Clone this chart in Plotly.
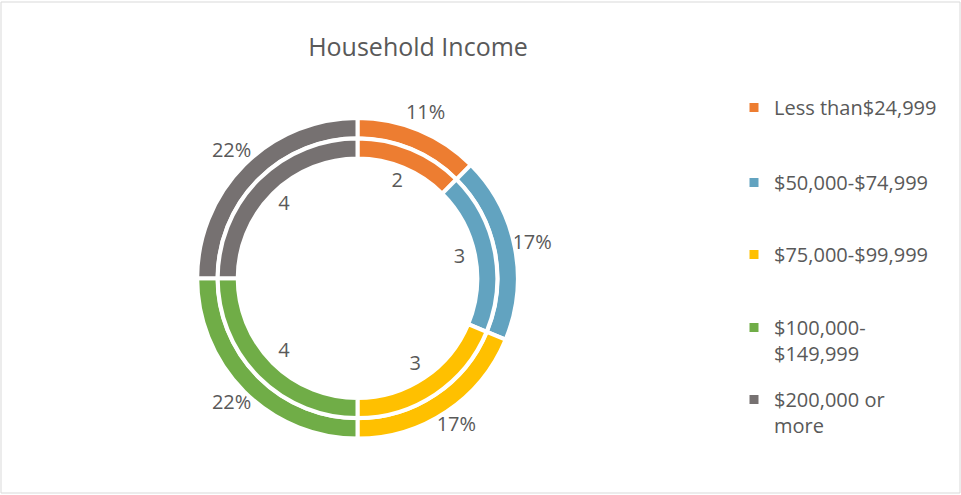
import plotly.graph_objects as go

# ---- data ----
categories = ["Less than$24,999", "$50,000-$74,999", "$75,000-$99,999",
              "$100,000-<br>$149,999", "$200,000 or<br>more"]
inner_values = [2, 3, 3, 4, 4]
outer_values = [2, 3, 3, 4, 4]
outer_labels = ["11%", "17%", "17%", "22%", "22%"]
inner_labels = ["2", "3", "3", "4", "4"]
colors = ["#ED7D31", "#62A3C0", "#FFC000", "#70AD47", "#767171"]

TEXT = "#595959"
FONT = "Open Sans"
W, H = 961, 495

# geometry (pixels)
cx, cy = 357.5, 216.7  # center, y from bottom
LW = 4
R_out, hole_out = 160.3, 140.0 / 160.3
R_in, hole_in = 139.8, 119.8 / 139.8
R_pol = 200.0


def dom(r):
    return dict(x=[(cx - r) / W, (cx + r) / W], y=[(cy - r) / H, (cy + r) / H])


fig = go.Figure()
fig.add_trace(go.Pie(values=outer_values, labels=categories, hole=hole_out,
                     domain=dom(R_out), sort=False, direction="clockwise",
                     rotation=0, textinfo="none", hoverinfo="label+value",
                     marker=dict(colors=colors, line=dict(color="white", width=LW)),
                     showlegend=False))
fig.add_trace(go.Pie(values=inner_values, labels=categories, hole=hole_in,
                     domain=dom(R_in), sort=False, direction="clockwise",
                     rotation=0, textinfo="none", hoverinfo="label+value",
                     marker=dict(colors=colors, line=dict(color="white", width=LW)),
                     showlegend=False))


# label positions: mid angle of each slice
def mids(vals):
    tot = sum(vals)
    out, acc = [], 0
    for v in vals:
        out.append((acc + v / 2) / tot * 360)
        acc += v
    return out


fig.add_trace(go.Scatterpolar(theta=mids(outer_values), r=[178] * len(outer_values),
                              text=outer_labels, mode="text", cliponaxis=False,
                              textfont=dict(size=20, color=TEXT, family=FONT),
                              hoverinfo="skip", showlegend=False))
fig.add_trace(go.Scatterpolar(theta=mids(inner_values), r=[104] * len(inner_values),
                              text=inner_labels, mode="text", cliponaxis=False,
                              textfont=dict(size=20, color=TEXT, family=FONT),
                              hoverinfo="skip", showlegend=False))

# legend entries (one legend per entry for Excel-like spacing)
legend_tops = [108, 183, 255, 328, 400]  # first-line centers in px from top
layout_legends = {}
for i, (cat, col) in enumerate(zip(categories, colors)):
    key = "legend" if i == 0 else f"legend{i + 1}"
    fig.add_trace(go.Scatter(x=[None], y=[None], mode="markers", name=cat,
                             marker=dict(symbol="square", size=9, color=col),
                             legend=key, showlegend=True))
    layout_legends[key] = dict(
        x=734 / W, xanchor="left",
        y=1 - (legend_tops[i] - 20) / H, yanchor="top",
        valign="top", itemwidth=30,
        font=dict(size=20, color=TEXT, family=FONT),
        bgcolor="rgba(0,0,0,0)", borderwidth=0)

fig.update_layout(
    width=W, height=H,
    margin=dict(l=0, r=0, t=0, b=0),
    paper_bgcolor="white", plot_bgcolor="white",
    title=dict(text="Household Income", x=418 / W, xanchor="center",
               y=1 - 47.5 / H, yanchor="middle",
               font=dict(size=25, color=TEXT, family=FONT)),
    polar=dict(domain=dom(R_pol), bgcolor="rgba(0,0,0,0)", hole=0,
               radialaxis=dict(visible=False, range=[0, R_pol]),
               angularaxis=dict(visible=False, rotation=90, direction="clockwise")),
    xaxis=dict(visible=False), yaxis=dict(visible=False),
    shapes=[dict(type="rect", xref="paper", yref="paper",
                 x0=1 / W, x1=960 / W, y0=1 - 493 / H, y1=1 - 2 / H,
                 line=dict(color="#D9D9D9", width=1))],
    **layout_legends,
)

fig.write_html("out.html", config={"displayModeBar": False},
               post_script="document.body.style.margin='0';document.body.style.overflow='hidden';")
